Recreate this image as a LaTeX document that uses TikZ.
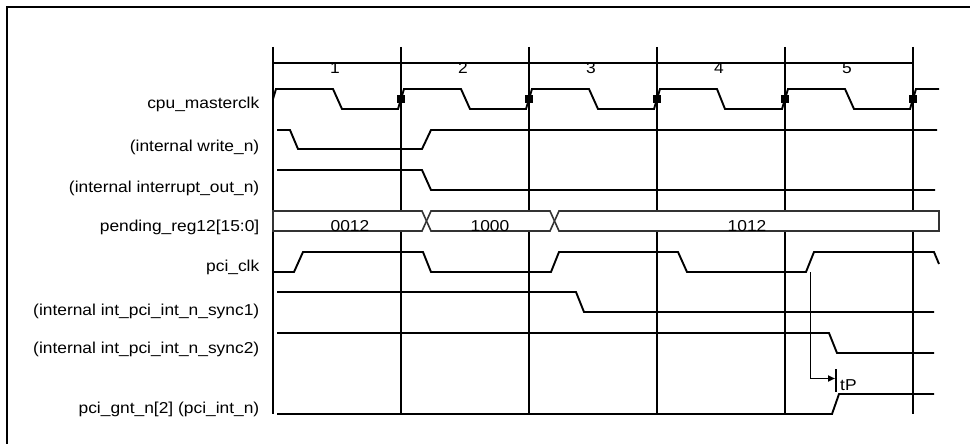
\documentclass[tikz,border=0pt]{standalone}
\usepackage{fontspec}
\setmainfont{Liberation Sans}[FakeStretch=1.1]
\usetikzlibrary{arrows.meta}
\begin{document}
\begin{tikzpicture}[x=1pt,y=-1pt,
  txt/.style={font=\fontsize{15.8}{18}\selectfont,inner sep=0pt},
  lbl/.style={txt,anchor=base east},
  sig/.style={line width=1.9pt,line join=miter},
  gridline/.style={line width=1.9pt},
  bus/.style={line width=1.6pt,draw=black!80,fill=white},
  edgemark/.style={fill=black,minimum size=8pt,inner sep=0pt,draw=none}]
\useasboundingbox (0,0) rectangle (970,444);
\fill[white] (0,0) rectangle (970,444);
% frame (cropped)
\draw[line width=2.2pt] (6.7,444) -- (6.7,6.7) -- (970,6.7);
% grid
\foreach \g/\n in {273/g0,401/g1,529/g2,657/g3,785/g4,913/g5}{
  \coordinate (\n t) at (\g,47);
  \coordinate (\n b) at (\g,414);
  \draw[gridline] (\n t) -- (\n b);
}
% cycle ruler
\coordinate (rs) at (273,63);
\coordinate (re) at (913,63);
\draw[gridline] (rs) -- (re);
\foreach \x/\i in {335/1,463/2,591/3,719/4,847/5}{
  \node[txt,anchor=north] (n\i) at (\x,62.5) {\i};
}
% labels
\node[lbl] (l1) at (259.5,109) {cpu\_masterclk};
\node[lbl] (l2) at (259.5,151.5) {(internal write\_n)};
\node[lbl] (l3) at (259.5,192) {(internal interrupt\_out\_n)};
\node[lbl] (l4) at (259.5,231.5) {pending\_reg12[15:0]};
\node[lbl] (l5) at (259.5,271) {pci\_clk};
\node[lbl] (l6) at (259.5,315) {(internal int\_pci\_int\_n\_sync1)};
\node[lbl] (l7) at (259.5,353.5) {(internal int\_pci\_int\_n\_sync2)};
\node[lbl] (l8) at (259.5,413.5) {pci\_gnt\_n[2] (pci\_int\_n)};
% cpu_masterclk
\draw[sig] (273,99) -- (276,89) -- (333,89) -- (342,109) -- (398,109) -- (404,89)
  -- (461,89) -- (470,109) -- (526,109) -- (532,89)
  -- (589,89) -- (598,109) -- (654,109) -- (660,89)
  -- (717,89) -- (725,109) -- (782,109) -- (788,89)
  -- (845,89) -- (854,109) -- (910,109) -- (916,89) -- (939,89);
\foreach \g/\i in {401/1,529/2,657/3,785/4,913/5}{
  \node[edgemark] (m\i) at (\g,99) {};
}
% write_n
\draw[sig] (277,130) -- (290,130) -- (298,149) -- (422,149) -- (431,130) -- (937,130);
% interrupt_out_n
\draw[sig] (277,170) -- (422,170) -- (431,190) -- (935,190);
% bus
\draw[bus] (273,211) -- (422,211) -- (426.5,221) -- (422,231) -- (273,231) -- cycle;
\draw[bus] (426.5,221) -- (431,211) -- (550,211) -- (554.5,221) -- (550,231) -- (431,231) -- cycle;
\draw[bus] (554.5,221) -- (559,211) -- (939,211) -- (939,231) -- (559,231) -- cycle;
\node[txt,anchor=base] (b1) at (350,231) {0012};
\node[txt,anchor=base] (b2) at (490,231) {1000};
\node[txt,anchor=base] (b3) at (747,231) {1012};
% pci_clk
\draw[sig] (273,272) -- (294,272) -- (303,252) -- (423,252) -- (431,272) -- (551,272)
  -- (559,252) -- (678,252) -- (687,272) -- (806,272) -- (814,252) -- (934,252) -- (939,264);
% sync1
\draw[sig] (277,292) -- (576,292) -- (584,312) -- (934,312);
% sync2
\draw[sig] (277,333) -- (829,333) -- (837,353) -- (934,353);
% pci_gnt_n
\draw[sig] (277,414) -- (832,414) -- (839,394) -- (934,394);
% tP
\coordinate (tps) at (810.5,272);
\coordinate (tpc) at (810.5,378.5);
\coordinate (tpe) at (835,378.5);
\draw[sig,-{Triangle[length=7pt,width=6pt]}] (tps) -- (tpc) -- (tpe);
\draw[sig] (836,369) -- (836,392);
\node[txt,anchor=base west] (tp) at (840,390) {tP};
\end{tikzpicture}
\end{document}
